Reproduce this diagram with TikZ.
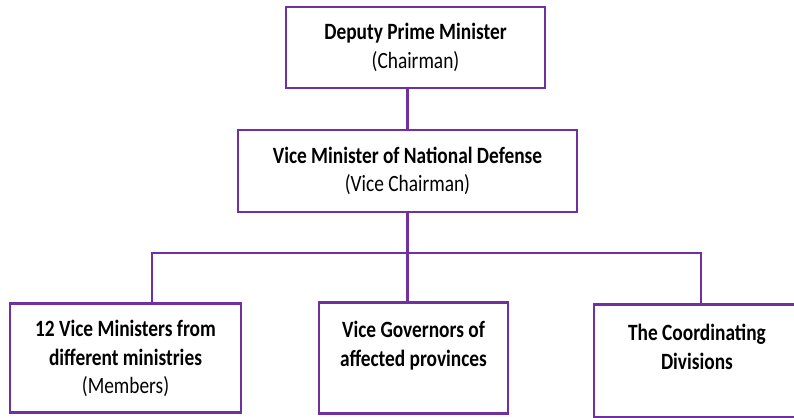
\documentclass[tikz,border=0pt]{standalone}
\usepackage{fontspec}
\setmainfont{Carlito}[FakeStretch=0.83]
\usepackage{xcolor}
\usepackage{tikz}
\usetikzlibrary{positioning,calc}
\definecolor{chartpurple}{HTML}{7030A0}

\begin{document}
\begin{tikzpicture}[x=0.75pt, y=-0.75pt, node distance=100pt, auto,
    every node/.style={rectangle, draw=chartpurple, line width=2.2pt, align=center, font=\fontsize{17.5}{21.5}\selectfont},
    link/.style={draw=chartpurple, line width=2.2pt}]
    \useasboundingbox (0,0) rectangle (794,418);
    \node [minimum width=194.25pt, minimum height=60.75pt] (chair) at (415.5,47.5) {\textbf{Deputy Prime Minister}\\(Chairman)};
    \node [below of=chair, node distance=92.6pt, xshift=-6pt, minimum width=254.25pt, minimum height=61.5pt] (vice) {\textbf{Vice Minister of National Defense}\\(Vice Chairman)};
    \node [below of=vice, node distance=140.6pt, xshift=4.5pt, minimum width=141.75pt, minimum height=83.25pt] (prov) {\textbf{Vice Governors of}\\\textbf{affected provinces}\\~};
    \node [left of=prov, node distance=216pt, minimum width=173.25pt, minimum height=81.75pt] (members) {\textbf{12 Vice Ministers from}\\\textbf{different ministries}\\(Members)};
    \node [right of=prov, node distance=212.6pt, yshift=-2.25pt, minimum width=154.5pt, minimum height=84.75pt] (coord) {\textbf{The Coordinating}\\\textbf{Divisions}\\~};

    % bus under the vice chairman
    \coordinate (busL) at (152,253);
    \coordinate (busR) at (701,253);
    \draw [link] (vice.north) -- (vice.north |- chair.south);
    \draw [link] (vice.south) -- (vice.south |- prov.north);
    \draw [link] (busL |- members.north) -- (busL) -- (busR) -- (busR |- coord.north);
\end{tikzpicture}
\end{document}
